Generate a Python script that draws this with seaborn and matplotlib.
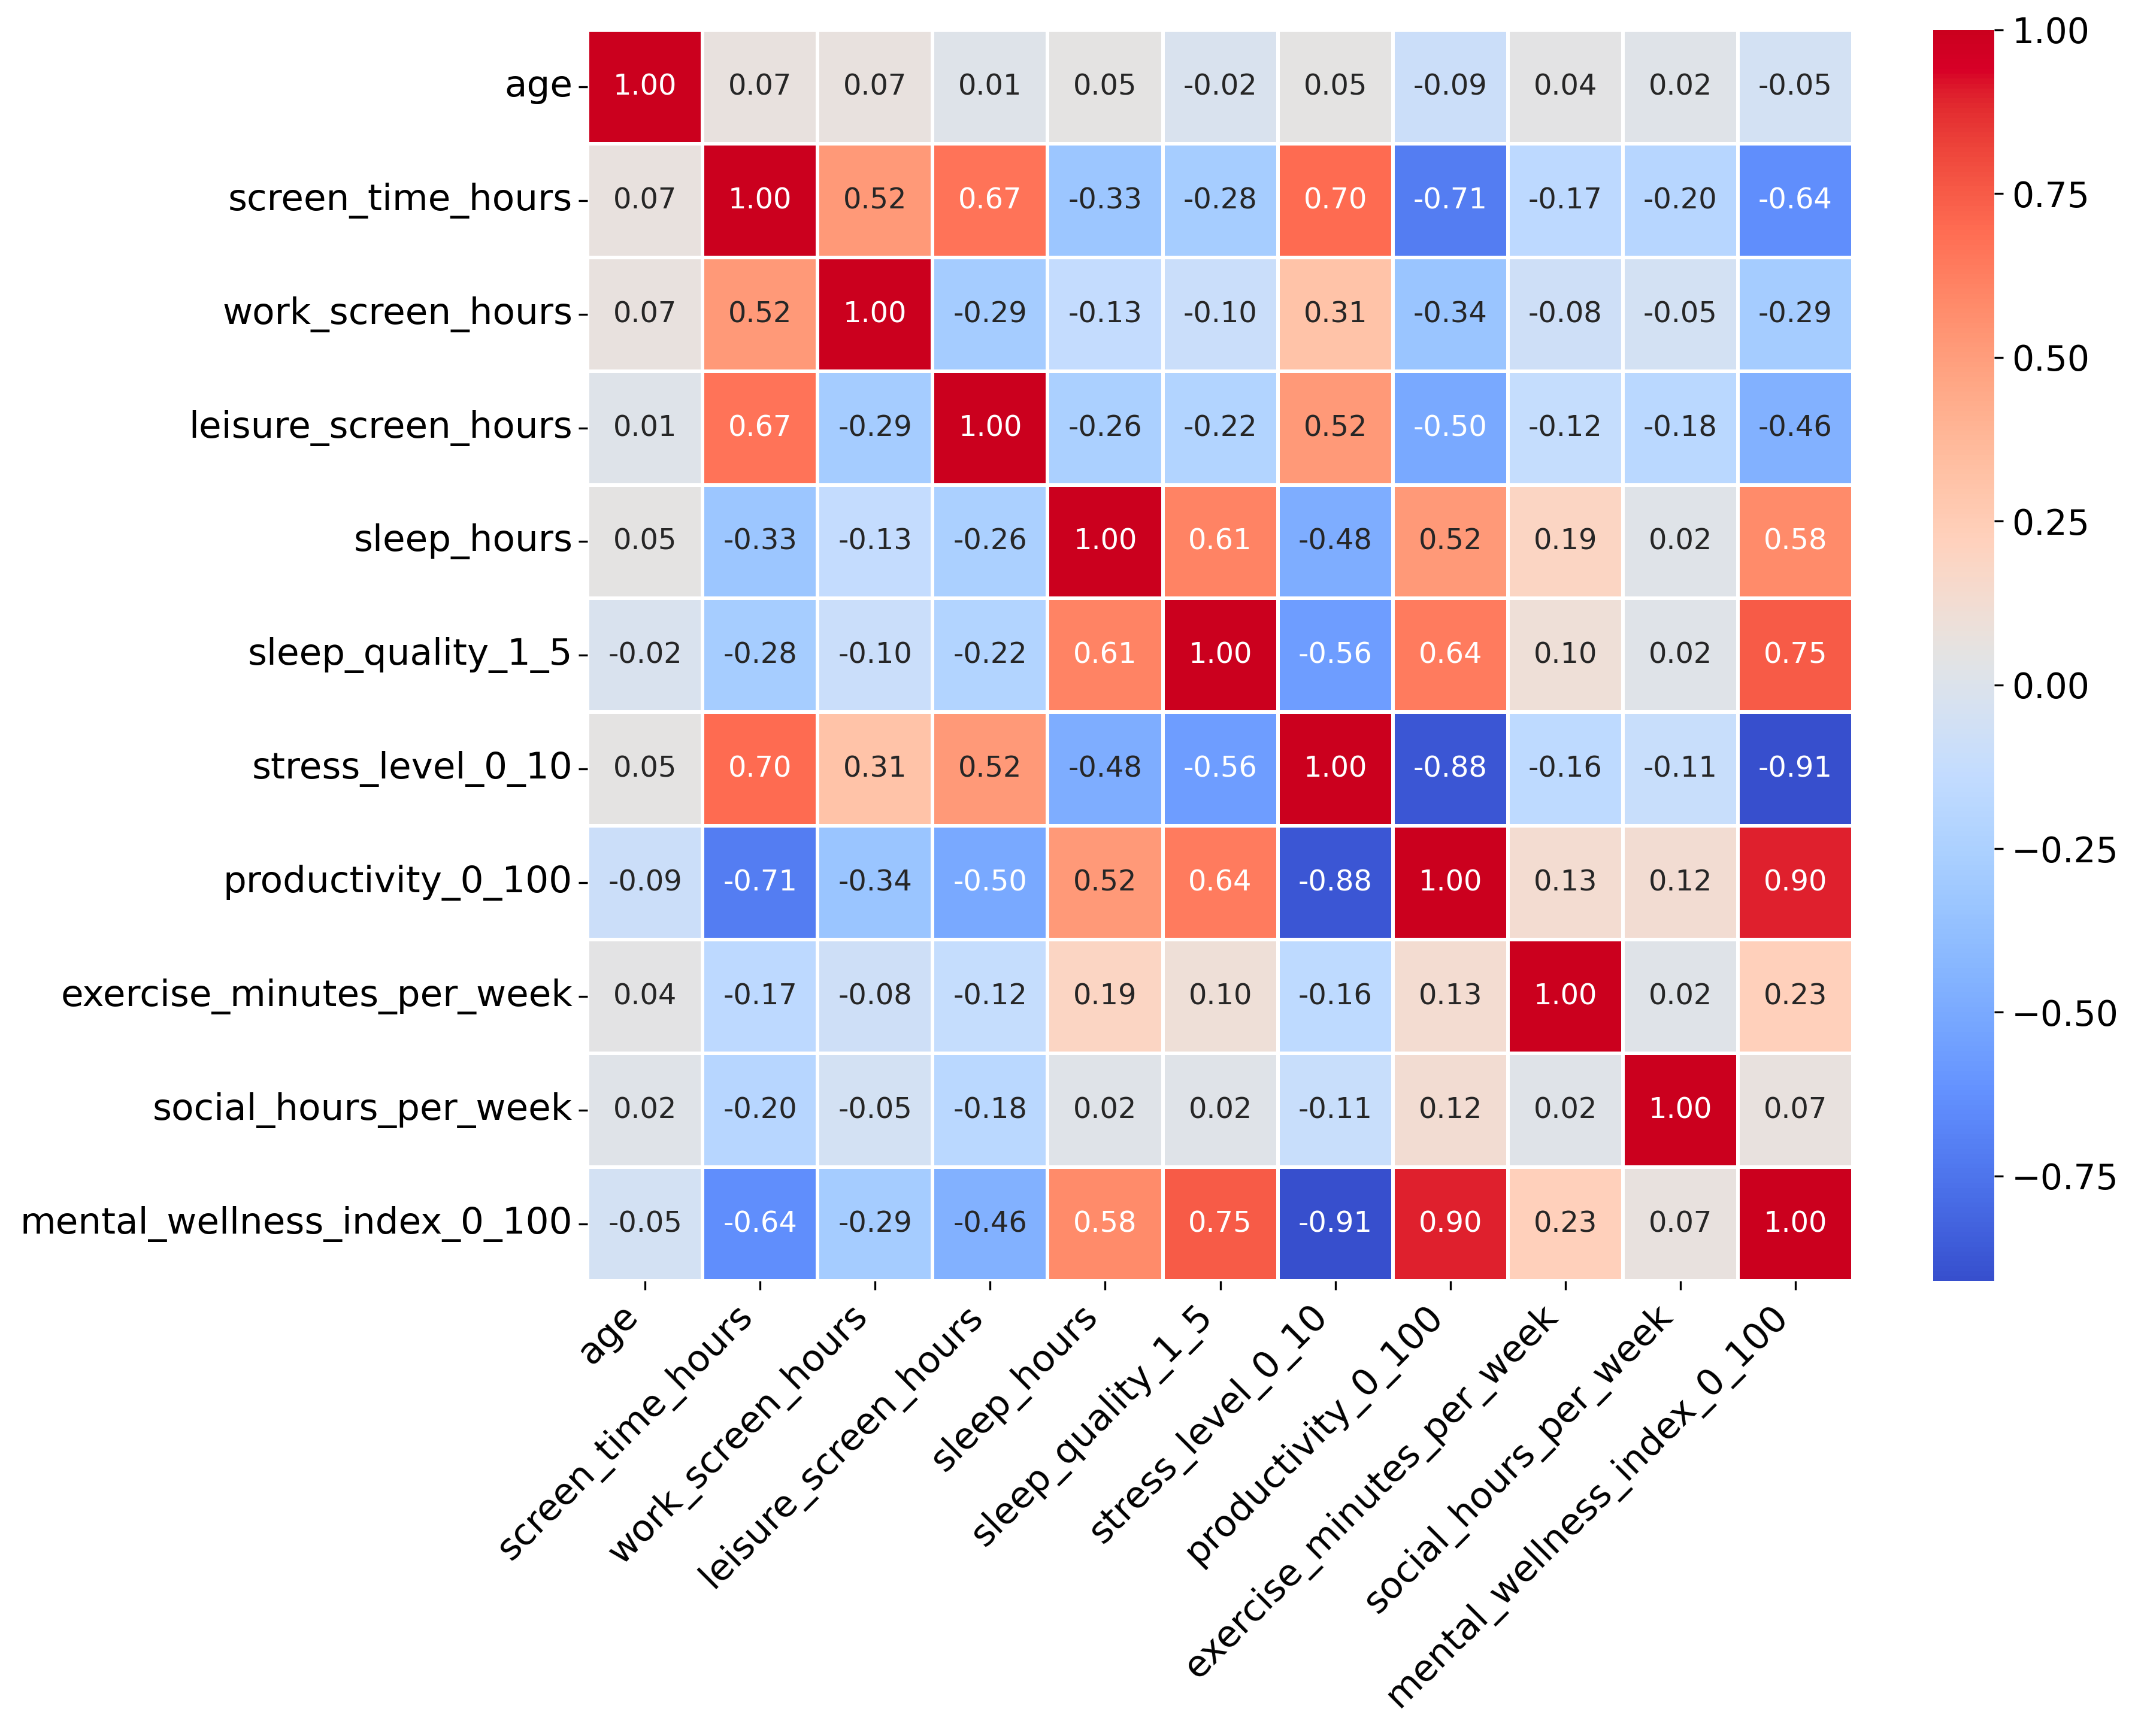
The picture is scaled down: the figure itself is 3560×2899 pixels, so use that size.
#Import python packages
import matplotlib
matplotlib.use('Agg')
import matplotlib.pyplot as plt
from matplotlib.colors import ListedColormap
import numpy as np
import pandas as pd
import seaborn as sns

#Variable names
cols = ['age', 'screen_time_hours', 'work_screen_hours', 'leisure_screen_hours',
        'sleep_hours', 'sleep_quality_1_5', 'stress_level_0_10', 'productivity_0_100',
        'exercise_minutes_per_week', 'social_hours_per_week', 'mental_wellness_index_0_100']

#Correlation rows
age = [1.00, 0.07, 0.07, 0.01, 0.05, -0.02, 0.05, -0.09, 0.04, 0.02, -0.05]
screen_time_hours = [0.07, 1.00, 0.52, 0.67, -0.33, -0.28, 0.70, -0.71, -0.17, -0.20, -0.64]
work_screen_hours = [0.07, 0.52, 1.00, -0.29, -0.13, -0.10, 0.31, -0.34, -0.08, -0.05, -0.29]
leisure_screen_hours = [0.01, 0.67, -0.29, 1.00, -0.26, -0.22, 0.52, -0.50, -0.12, -0.18, -0.46]
sleep_hours = [0.05, -0.33, -0.13, -0.26, 1.00, 0.61, -0.48, 0.52, 0.19, 0.02, 0.58]
sleep_quality_1_5 = [-0.02, -0.28, -0.10, -0.22, 0.61, 1.00, -0.56, 0.64, 0.10, 0.02, 0.75]
stress_level_0_10 = [0.05, 0.70, 0.31, 0.52, -0.48, -0.56, 1.00, -0.88, -0.16, -0.11, -0.91]
productivity_0_100 = [-0.09, -0.71, -0.34, -0.50, 0.52, 0.64, -0.88, 1.00, 0.13, 0.12, 0.90]
exercise_minutes_per_week = [0.04, -0.17, -0.08, -0.12, 0.19, 0.10, -0.16, 0.13, 1.00, 0.02, 0.23]
social_hours_per_week = [0.02, -0.20, -0.05, -0.18, 0.02, 0.02, -0.11, 0.12, 0.02, 1.00, 0.07]
mental_wellness_index_0_100 = [-0.05, -0.64, -0.29, -0.46, 0.58, 0.75, -0.91, 0.90, 0.23, 0.07, 1.00]

rows = [age, screen_time_hours, work_screen_hours, leisure_screen_hours, sleep_hours,
        sleep_quality_1_5, stress_level_0_10, productivity_0_100,
        exercise_minutes_per_week, social_hours_per_week, mental_wellness_index_0_100]
corr = pd.DataFrame(np.array(rows), index=cols, columns=cols)

#coolwarm, a bit more saturated like the reference (treat values as P3, convert to sRGB)
base = plt.get_cmap('coolwarm')(np.linspace(0, 1, 256))[:, :3]
lin = np.where(base <= 0.04045, base / 12.92, ((base + 0.055) / 1.055) ** 2.4)
m = np.array([[1.2249, -0.2247, 0.0], [-0.0420, 1.0419, 0.0], [-0.0197, -0.0786, 1.0979]])
lin = np.clip(lin @ m.T, 0, 1)
enc = np.where(lin <= 0.0031308, lin * 12.92, 1.055 * lin ** (1 / 2.4) - 0.055)
cmap = ListedColormap(np.clip(enc * 1.03, 0, 1))

#Figure with fixed axes positions
fig = plt.figure(figsize=(3560 / 300, 2899 / 300), dpi=300)
ax = fig.add_axes([0.2756, 0.2622, 0.5935, 0.7206])
cax = fig.add_axes([0.9067, 0.2622, 0.0287, 0.7206])

sns.heatmap(corr, annot=True, fmt='.2f', cmap=cmap, linewidths=1.0, linecolor='white',
            annot_kws={'size': 11.5}, ax=ax, cbar_ax=cax)

ax.set_xticklabels(ax.get_xticklabels(), rotation=45, ha='right', fontsize=14.7)
ax.set_yticklabels(ax.get_yticklabels(), rotation=0, fontsize=14.7)
ax.tick_params(axis='y', pad=2.5)
cax.tick_params(labelsize=14)

fig.savefig('out.png', dpi=300)
